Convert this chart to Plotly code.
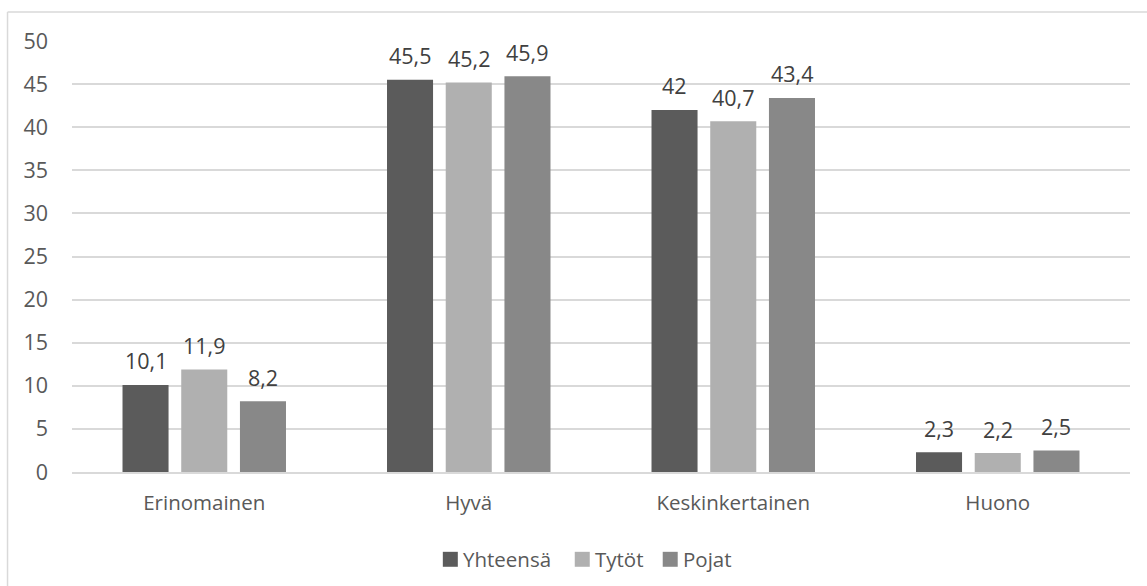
import plotly.graph_objects as go

# Data
categories = ["Erinomainen", "Hyvä", "Keskinkertainen", "Huono"]
series_names = ["Yhteensä", "Tytöt", "Pojat"]
yhteensa = [10.1, 45.5, 42, 2.3]
tytot = [11.9, 45.2, 40.7, 2.2]
pojat = [8.2, 45.9, 43.4, 2.5]
y_ticks = [0, 5, 10, 15, 20, 25, 30, 35, 40, 45, 50]

series_values = [yhteensa, tytot, pojat]
colors = ["#5b5b5b", "#b0b0b0", "#888888"]

W, H = 1147, 586
M_L, M_R, M_T, M_B = 72, 16.5, 40.5, 113.5
plot_w = W - M_L - M_R
plot_h = H - M_T - M_B

FONT = "Open Sans"
TEXT_SIZE = 20.5
NUM_SIZE = 21.5

fig = go.Figure()
for name, vals, col in zip(series_names, series_values, colors):
    fig.add_trace(go.Bar(
        x=categories, y=vals, name=name, marker_color=col,
        marker_line_width=0, showlegend=False,
    ))

bargap = 0.334
bargroupgap = 0.216
cat_w = plot_w / len(categories)
slot = cat_w * (1 - bargap) / len(series_names)

def fmt(v):
    s = f"{v:g}"
    return s.replace(".", ",")

annotations = []
for i, vals in enumerate(series_values):
    offset = (i - (len(series_names) - 1) / 2) * slot
    for cat, v in zip(categories, vals):
        annotations.append(dict(
            x=cat, y=v, xref="x", yref="y", text=fmt(v), showarrow=False,
            xshift=offset, yshift=24, yanchor="middle",
            font=dict(family=FONT, size=NUM_SIZE, color="#404040"),
        ))

# Legend drawn as swatches and labels below the plot
def px_to_paper_x(px):
    return (px - M_L) / plot_w

def px_to_paper_y(py):
    return (H - M_B - py) / plot_h

shapes = []
legend_x = [443, 575, 663]
legend_y = 560
sw = 15
for name, col, lx in zip(series_names, colors, legend_x):
    shapes.append(dict(
        type="rect", xref="paper", yref="paper",
        x0=px_to_paper_x(lx), x1=px_to_paper_x(lx + sw),
        y0=px_to_paper_y(legend_y + sw / 2), y1=px_to_paper_y(legend_y - sw / 2),
        fillcolor=col, line_width=0,
    ))
    annotations.append(dict(
        x=px_to_paper_x(lx + sw + 3), y=px_to_paper_y(legend_y),
        xref="paper", yref="paper", xanchor="left", yanchor="middle",
        text=name, showarrow=False,
        font=dict(family=FONT, size=TEXT_SIZE, color="#595959"),
    ))

# Chart frame (top and left edges)
border_col = "#d9d9d9"
shapes.append(dict(type="line", xref="paper", yref="paper",
                   x0=px_to_paper_x(7.5), x1=px_to_paper_x(W + 5),
                   y0=px_to_paper_y(11.5), y1=px_to_paper_y(11.5),
                   line=dict(color=border_col, width=1.5)))
shapes.append(dict(type="line", xref="paper", yref="paper",
                   x0=px_to_paper_x(7.5), x1=px_to_paper_x(7.5),
                   y0=px_to_paper_y(11.5), y1=px_to_paper_y(H + 5),
                   line=dict(color=border_col, width=1.5)))

fig.update_layout(
    width=W, height=H,
    margin=dict(l=M_L, r=M_R, t=M_T, b=M_B, pad=0),
    paper_bgcolor="white", plot_bgcolor="white",
    barmode="group", bargap=bargap, bargroupgap=bargroupgap,
    font=dict(family=FONT, size=TEXT_SIZE, color="#595959"),
    annotations=annotations, shapes=shapes,
    xaxis=dict(
        showgrid=False, showline=True, linecolor="#d9d9d9", linewidth=1.5,
        ticks="", ticklabelstandoff=12,
        tickfont=dict(family=FONT, size=TEXT_SIZE, color="#595959"),
    ),
    yaxis=dict(
        range=[0, 50], tickvals=y_ticks, showgrid=True, gridcolor="#d9d9d9",
        gridwidth=1.5, zeroline=False, showline=False, ticks="",
        ticklabelstandoff=23,
        tickfont=dict(family=FONT, size=NUM_SIZE, color="#595959"),
    ),
    showlegend=False,
)

fig.write_html("out.html")
